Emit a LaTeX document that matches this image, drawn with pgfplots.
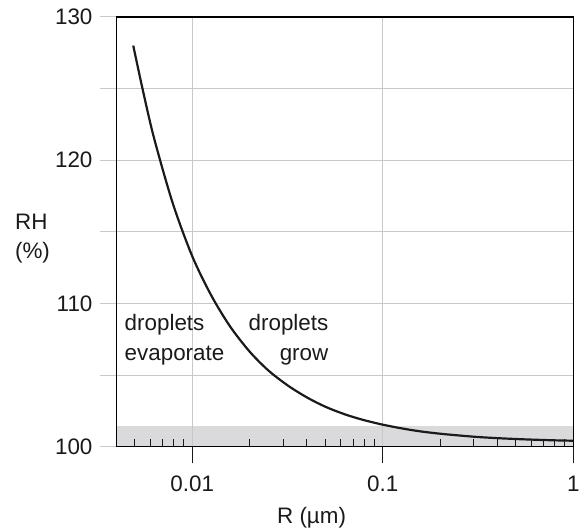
\documentclass[border=0pt]{standalone}
\usepackage{pgfplots}
\pgfplotsset{compat=1.18}
\usepackage{fontspec}
\setmainfont{Liberation Sans}
\definecolor{gridgray}{HTML}{C8C8CA}
\definecolor{bandgray}{HTML}{DADADC}
\definecolor{curveblack}{HTML}{1A1A1A}
\begin{document}
\fontsize{22.5}{27}\selectfont
\begin{tikzpicture}
\begin{axis}[
  set layers, clip=false,
  scale only axis, width=459pt, height=432pt,
  xmode=log, xmin=0.004, xmax=1, ymin=100, ymax=130,
  xtick={0.01,0.1,1}, xticklabels={0.01,0.1,1},
  minor xtick={0.005,0.006,0.007,0.008,0.009,0.02,0.03,0.04,0.05,0.06,0.07,0.08,0.09,0.2,0.3,0.4,0.5,0.6,0.7,0.8,0.9},
  extra x ticks={0.01,0.1,1}, extra x tick labels={},
  extra x tick style={grid=none},
  ytick={100,110,120,130},
  extra y ticks={105,115,125}, extra y tick labels={},
  extra y tick style={grid=major, major y tick style={gridgray, line width=0.9pt}},
  xmajorgrids, ymajorgrids,
  grid style={color=gridgray, line width=0.9pt},
  tick pos=left, tick align=outside,
  major tick length=16.5pt, minor tick length=7.7pt,
  major x tick style={curveblack, line width=1.4pt},
  minor x tick style={curveblack, line width=1pt, yshift=7.7pt},
  major y tick style={gridgray, line width=0.9pt},
  axis line style={black, line width=1.2pt},
  /pgf/number format/assume math mode=true,
  ticklabel style={font=\fontsize{22.5}{27}\selectfont, color=curveblack},
  xticklabel style={yshift=-5pt},
]
\addplot[fill=bandgray, draw=none, on layer=axis background] coordinates {(0.004,101.47) (1,101.47)} \closedcycle;
\addplot[smooth, line width=2.2pt, color=curveblack] coordinates {
(0.0049,128.0) (0.0055,124.9) (0.0063,121.55) (0.0079,117.0) (0.01,113.3) (0.0126,110.55) (0.0158,108.4) (0.02,106.65) (0.025,105.35) (0.0316,104.3) (0.04,103.45) (0.05,102.8) (0.063,102.28) (0.079,101.88) (0.1,101.55) (0.126,101.29) (0.158,101.08) (0.2,100.92) (0.25,100.8) (0.316,100.69) (0.4,100.61) (0.5,100.55) (0.63,100.5) (0.79,100.46) (1,100.43)};
\begin{scope}[every node/.style={inner sep=0pt, color=curveblack}]
\node[anchor=base west] at (axis cs:0.00441,108.125) {droplets};
\node[anchor=base west] at (axis cs:0.00441,106.06) {evaporate};
\node[anchor=base east] at (axis cs:0.0519,108.125) {droplets};
\node[anchor=base east] at (axis cs:0.0519,106.06) {grow};
\node[anchor=base west, xshift=-102pt] at (axis cs:0.004,115.14) {RH};
\node[anchor=base west, xshift=-102pt] at (axis cs:0.004,113.125) {(\%)};
\node[anchor=base, yshift=-77pt] at (axis cs:0.0423,100) {R (µm)};
\end{scope}
\end{axis}
\path (current axis.south west) ++(-117pt,-82pt) (current axis.north east) ++(11pt,17pt);
\end{tikzpicture}
\end{document}
